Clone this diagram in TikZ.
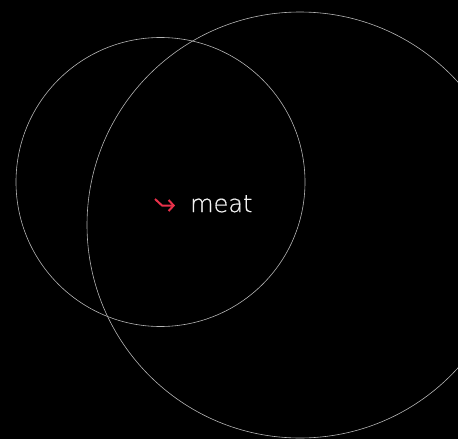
\documentclass[tikz,border=0pt]{standalone}
\usepackage{fontspec}
\newfontfamily\labelfont{DejaVu Sans ExtraLight}[FakeBold=0.6]
\usetikzlibrary{arrows.meta}
\definecolor{ringgray}{HTML}{B4B4B4}
\definecolor{pointred}{HTML}{E8314A}
\definecolor{labelgray}{HTML}{F2F2F2}
\tikzset{
  ring/.style={draw=ringgray,line width=0.6pt},
  pointer/.style={pointred,line width=2pt,line join=round,-{Straight Barb[length=5pt,width=11pt,line width=2pt]}}
}

\begin{document}
\begin{tikzpicture}[x=1pt,y=-1pt]
  % fondo
  \fill[black] (0,0) rectangle (458,439);
  \clip (0,0) rectangle (458,439);
  % circulos
  \draw[ring] (160.5,182) circle (144.5);
  \draw[ring] (300,225) circle (213);
  % etiqueta
  \node[anchor=base west,inner sep=0pt,text=labelgray,font=\labelfont\fontsize{24}{24}\selectfont] (meat) at (190,212) {meat};
  \coordinate (tail) at (155,199);
  \draw[pointer] (tail) -- ++(7,6.5) -- ++(13,0);
\end{tikzpicture}
\end{document}
